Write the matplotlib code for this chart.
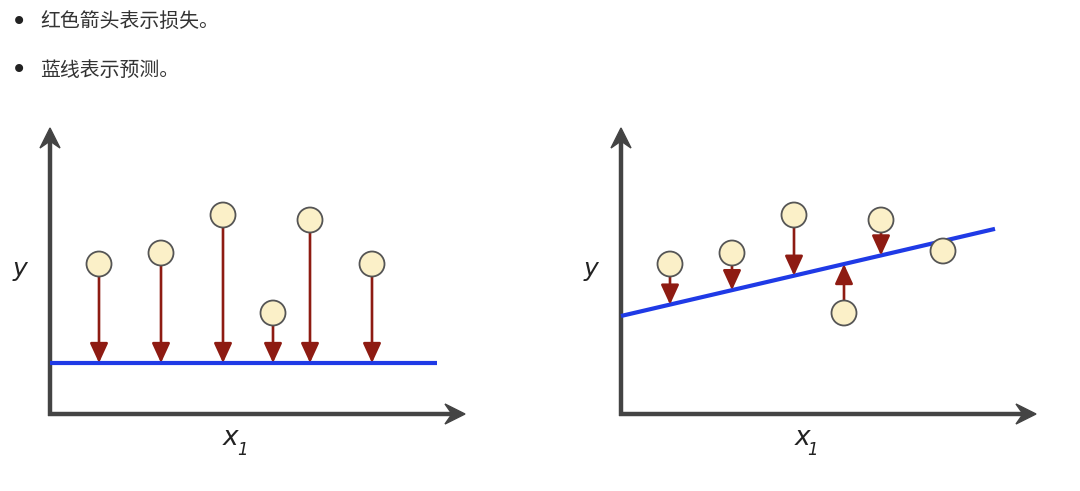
import numpy as np
import matplotlib.pyplot as plt
from matplotlib.patches import Circle, Polygon

plt.rcParams['font.family'] = ['Noto Sans CJK SC', 'DejaVu Sans']

# notes shown above the two panels
notes = ['红色箭头表示损失。', '蓝线表示预测。']

# sample points, same x for both panels (pixel-ish units measured from the axis corner)
pt_x = [49, 111, 173, 223, 260, 322]
left_y = [150, 161, 199, 101, 194, 150]
right_y = [150, 161, 199, 101, 194, 163]

# predictions: flat line on the left, sloped fit on the right
left_line = (0.0, 51.0)       # slope, intercept
right_line = (0.233, 98.0)
left_line_end = 387
right_line_end = 374

axis_len_x = 415
axis_len_y = 286

W, H = 1080, 491
fig = plt.figure(figsize=(W / 100, H / 100), dpi=100)

AXIS_C = '#444444'
LOSS_C = '#8e1b12'
PRED_C = '#1f3ae6'
PT_FACE = '#fbf0c8'
PT_EDGE = '#555555'


def axis_arrow(ax, x0, y0, x1, y1):
    # shaft + a notched head, like the original sketch
    d = np.array([x1 - x0, y1 - y0], dtype=float)
    L = np.hypot(*d)
    u = d / L
    n = np.array([-u[1], u[0]])
    tip = np.array([x1, y1], dtype=float)
    back = tip - u * 20
    notch = tip - u * 13
    head = [tip, back + n * 10, notch, back - n * 10]
    ax.plot([x0, notch[0]], [y0, notch[1]], color=AXIS_C, lw=3.2, solid_capstyle='butt', zorder=2)
    ax.add_patch(Polygon(head, closed=True, color=AXIS_C, zorder=2))


def panel(left_px, origin_px, ys, line, line_end):
    ax = fig.add_axes([left_px / W, 0, 540 / W, 1])
    ax.set_xlim(-(origin_px - left_px), 540 - (origin_px - left_px))
    ax.set_ylim(-(H - 414), 414)
    ax.axis('off')

    # axes of the sketch
    axis_arrow(ax, 0, -1.6, 0, axis_len_y)
    axis_arrow(ax, -1.6, 0, axis_len_x, 0)
    ax.text(-30, 145, 'y', fontsize=18, style='italic', family='DejaVu Sans',
            color='#222222', ha='center', va='center')
    ax.text(181, -24, 'x', fontsize=19, style='italic', family='DejaVu Sans',
            color='#222222', ha='center', va='center')
    ax.text(192, -36, '1', fontsize=12, style='italic', family='DejaVu Sans',
            color='#222222', ha='center', va='center')

    # prediction line
    m, b = line
    xs = np.array([0, line_end])
    ax.plot(xs, m * xs + b, color=PRED_C, lw=3, solid_capstyle='butt', zorder=3)

    # losses + points
    for x, y in zip(pt_x, ys):
        yl = m * x + b
        if abs(y - yl) > 15:
            ax.annotate('', xy=(x, yl), xytext=(x, y),
                        arrowprops=dict(arrowstyle='-|>,head_length=1.2,head_width=0.55',
                                        color=LOSS_C, lw=1.9, mutation_scale=10,
                                        shrinkA=0, shrinkB=0), zorder=4)
        ax.add_patch(Circle((x, y), 12.5, facecolor=PT_FACE, edgecolor=PT_EDGE,
                            lw=1.3, zorder=5))
    return ax


panel(0, 50, left_y, left_line, left_line_end)
panel(540, 621, right_y, right_line, right_line_end)

for i, s in enumerate(notes):
    yy = 1 - (22 + 48 * i) / H
    fig.text(19 / W, yy, '•', fontsize=20, color='#222222', ha='center', va='center',
             family='DejaVu Sans')
    fig.text(40 / W, yy, s, fontsize=14.3, color='#333333', ha='left', va='center')

fig.savefig('out.png', dpi=100, facecolor='white')
